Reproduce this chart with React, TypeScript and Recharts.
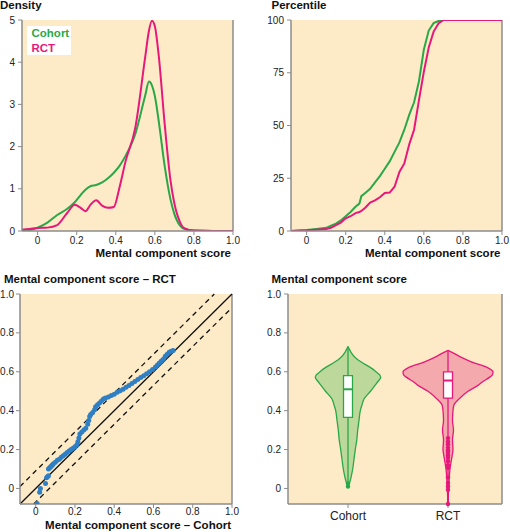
import React from 'react';
import {
  LineChart, Line, XAxis, YAxis, ReferenceLine, CartesianGrid, ScatterChart, Scatter,
  ComposedChart, Area, ReferenceArea, ReferenceDot, Legend,
} from 'recharts';

const FONT = '"Liberation Sans", Arial, Helvetica, sans-serif';
const BG = '#fdebc8';
const AXIS = '#8c8c8c';
const GREEN = '#2aa848';
const MAGENTA = '#e6187a';
const BLUE = '#2f7fc4';
const GREEN_FILL = '#bcd89a';
const MAGENTA_FILL = '#f4a9ac';

// ---------- shared ticks ----------
const scoreTicks = [0, 0.2, 0.4, 0.6, 0.8, 1.0];
const densityTicks = [0, 1, 2, 3, 4, 5];
const percentileTicks = [0, 25, 50, 75, 100];
const groups = ['Cohort', 'RCT'];

// ---------- density panel ----------
const densityX = [-0.08, -0.04, 0, 0.05, 0.1, 0.15, 0.19, 0.22, 0.245, 0.27, 0.3, 0.33, 0.36, 0.39, 0.42, 0.45, 0.5, 0.55, 0.57, 0.585, 0.6, 0.62, 0.65, 0.68, 0.7, 0.73, 0.75, 0.8, 0.9, 1.0];
const densityCohort = [0.0, 0.02, 0.08, 0.2, 0.38, 0.52, 0.68, 0.85, 0.98, 1.06, 1.09, 1.15, 1.25, 1.38, 1.55, 1.78, 2.3, 3.2, 3.54, 3.45, 3.2, 2.6, 1.55, 0.75, 0.4, 0.12, 0.05, 0.01, 0, 0];
const densityRct = [0.03, 0.05, 0.07, 0.08, 0.14, 0.42, 0.62, 0.55, 0.47, 0.62, 0.73, 0.6, 0.55, 0.57, 1.05, 1.65, 2.45, 4.1, 4.75, 4.98, 4.85, 4.15, 2.55, 1.2, 0.65, 0.2, 0.07, 0.01, 0, 0];

// ---------- cumulative panel ----------
const cdfX = [-0.08, 0, 0.05, 0.1, 0.125, 0.15, 0.175, 0.2, 0.225, 0.25, 0.27, 0.28, 0.3, 0.325, 0.35, 0.375, 0.4, 0.425, 0.45, 0.475, 0.5, 0.525, 0.55, 0.575, 0.6, 0.625, 0.65, 0.675, 0.7, 0.8, 1.0];
const cdfCohort = [0, 0.5, 1, 1.5, 2.5, 3.5, 5, 7, 9, 11.5, 13, 16.5, 18, 20, 23, 26, 29.5, 33, 37.5, 42, 48, 55, 61, 71, 86, 95, 98.5, 99.5, 100, 100, 100];
const cdfRct = [0, 0.3, 0.6, 1, 1.5, 2.8, 4, 6, 7, 8.5, 9, 9.5, 11, 13.5, 14.5, 16, 18, 18.2, 21, 28, 32, 41, 48, 62, 75.5, 87, 94.5, 98.4, 100, 100, 100];

// ---------- Q-Q panel ----------
const qqCohort = [0.007, 0.02, 0.024, 0.05, 0.055, 0.06, 0.065, 0.065, 0.07, 0.075, 0.08, 0.085, 0.09, 0.1, 0.11, 0.12, 0.13, 0.14, 0.15, 0.16, 0.17, 0.18, 0.19, 0.2, 0.21, 0.215, 0.22, 0.225, 0.235, 0.245, 0.255, 0.265, 0.27, 0.275, 0.28, 0.29, 0.3, 0.305, 0.315, 0.325, 0.335, 0.345, 0.355, 0.37, 0.385, 0.4, 0.415, 0.43, 0.445, 0.46, 0.475, 0.49, 0.505, 0.52, 0.535, 0.55, 0.565, 0.58, 0.595, 0.61, 0.62, 0.63, 0.64, 0.65, 0.66, 0.67, 0.68, 0.69, 0.7];
const qqRct = [-0.077, -0.02, 0.0, 0.025, 0.055, 0.06, 0.065, 0.1, 0.105, 0.11, 0.115, 0.12, 0.127, 0.135, 0.145, 0.15, 0.16, 0.168, 0.176, 0.185, 0.193, 0.2, 0.207, 0.215, 0.225, 0.24, 0.26, 0.28, 0.29, 0.3, 0.31, 0.33, 0.35, 0.37, 0.38, 0.39, 0.405, 0.42, 0.43, 0.44, 0.45, 0.46, 0.465, 0.47, 0.478, 0.485, 0.495, 0.502, 0.51, 0.52, 0.53, 0.54, 0.55, 0.56, 0.57, 0.58, 0.59, 0.6, 0.612, 0.625, 0.635, 0.645, 0.655, 0.665, 0.68, 0.69, 0.7, 0.706, 0.71];
const qqBandOffsets = [0.09, -0.07];

// ---------- violin panel ----------
const violinY = [-0.08, -0.05, 0, 0.005, 0.02, 0.05, 0.1, 0.15, 0.2, 0.25, 0.3, 0.35, 0.4, 0.43, 0.46, 0.5, 0.53, 0.55, 0.57, 0.585, 0.6, 0.62, 0.65, 0.67, 0.7, 0.71, 0.73];
const violinCohortHalf = [null, null, null, 0, 0.01, 0.027, 0.047, 0.06, 0.073, 0.088, 0.097, 0.11, 0.123, 0.14, 0.16, 0.225, 0.27, 0.3, 0.327, 0.315, 0.28, 0.23, 0.133, 0.08, 0.03, 0.02, 0];
const violinRctHalf = [0, 0.003, 0.007, 0.008, 0.009, 0.012, 0.02, 0.035, 0.05, 0.045, 0.055, 0.045, 0.05, 0.06, 0.11, 0.2, 0.3, 0.35, 0.41, 0.445, 0.45, 0.4, 0.24, 0.15, 0.04, 0, null];
const boxQ1 = [0.365, 0.465];
const boxMedian = [0.51, 0.555];
const boxQ3 = [0.58, 0.6];
const whiskerLow = [0.005, -0.08];
const whiskerHigh = [0.73, 0.71];
const cohortOutliers = [0.01, 0.025];
const rctOutliers = [0.259, 0.241, 0.227, 0.21, 0.196, 0.184, 0.17, 0.158, 0.14, 0.12, 0.106, 0.057, 0.028, 0.01, -0.007, -0.08];

const fmtScore = (v: number) => (v === 0 ? '0' : v.toFixed(1));
const tickStyle = { fontSize: 10, fill: '#222', fontFamily: FONT };
const axisLine = { stroke: AXIS, strokeWidth: 1.5 };
const tickLine = { stroke: AXIS, strokeWidth: 1 };

const densityData = densityX.map((x, i) => ({ x, cohort: densityCohort[i], rct: densityRct[i] }));
const cdfData = cdfX.map((x, i) => ({ x, cohort: cdfCohort[i], rct: cdfRct[i] }));
const qqData = qqCohort.map((x, i) => ({ x, y: qqRct[i] }));
const violinData = violinY.map((y, i) => {
  const c = violinCohortHalf[i];
  const r = violinRctHalf[i];
  return {
    y,
    cohort: c == null ? [null, null] : [1 - c, 1 + c],
    rct: r == null ? [null, null] : [2 - r, 2 + r],
  };
});

const LegendBox = (props: any) => (
  <div style={{ background: '#fff', padding: '0 2px 0 4.5px', fontFamily: FONT, fontWeight: 'bold', fontSize: 11.5, lineHeight: '14.5px' }}>
    {(props.payload || []).map((e: any) => (
      <div key={e.value} style={{ color: e.color }}>{e.value}</div>
    ))}
  </div>
);

const Dot = (p: any) => <circle cx={p.cx} cy={p.cy} r={2.5} fill={BLUE} />;

const titleStyle: React.CSSProperties = { fontFamily: FONT, fontWeight: 'bold', fontSize: 11.5, fill: '#111' };

export default function App() {
  const boxW = 0.045;
  return (
    <div style={{ position: 'absolute', left: 0, top: 0, width: 510, height: 532, background: '#fff', fontFamily: FONT }}>
      <div style={{ position: 'absolute', left: 0, top: 0 }}>
        <LineChart width={255} height={266} data={densityData} margin={{ top: 20, right: 22, bottom: 0, left: 0 }}>
          <CartesianGrid fill={BG} horizontal={false} vertical={false} stroke="none" />
          <XAxis type="number" dataKey="x" domain={[-0.08, 1]} allowDataOverflow ticks={scoreTicks} tickFormatter={fmtScore} height={35} tickSize={4} tickMargin={2} tick={tickStyle} axisLine={axisLine} tickLine={tickLine} />
          <YAxis type="number" domain={[0, 5]} allowDataOverflow ticks={densityTicks} width={22} tickSize={4} tickMargin={3} tick={tickStyle} axisLine={axisLine} tickLine={tickLine} />
          <ReferenceLine x={1} stroke={AXIS} strokeWidth={1.5} />
          <Line name="Cohort" dataKey="cohort" type="monotone" stroke={GREEN} strokeWidth={2} dot={false} isAnimationActive={false} />
          <Line name="RCT" dataKey="rct" type="monotone" stroke={MAGENTA} strokeWidth={2} dot={false} isAnimationActive={false} />
          <Legend content={LegendBox} layout="horizontal" verticalAlign="middle" align="center" wrapperStyle={{ left: 27, top: 26, width: 'auto', height: 'auto' }} />
        </LineChart>
      </div>

      <div style={{ position: 'absolute', left: 255, top: 0 }}>
        <LineChart width={255} height={266} data={cdfData} margin={{ top: 20, right: 8, bottom: 0, left: 0 }}>
          <CartesianGrid fill={BG} horizontal={false} vertical={false} stroke="none" />
          <XAxis type="number" dataKey="x" domain={[-0.08, 1]} allowDataOverflow ticks={scoreTicks} tickFormatter={fmtScore} height={35} tickSize={4} tickMargin={2} tick={tickStyle} axisLine={axisLine} tickLine={tickLine} />
          <YAxis type="number" domain={[0, 100]} allowDataOverflow ticks={percentileTicks} width={36} tickSize={4} tickMargin={3} tick={tickStyle} axisLine={axisLine} tickLine={tickLine} />
          <ReferenceLine x={1} stroke={AXIS} strokeWidth={1.5} />
          <Line name="Cohort" dataKey="cohort" type="linear" stroke={GREEN} strokeWidth={2} dot={false} isAnimationActive={false} />
          <Line name="RCT" dataKey="rct" type="linear" stroke={MAGENTA} strokeWidth={2} dot={false} isAnimationActive={false} />
        </LineChart>
      </div>

      <div style={{ position: 'absolute', left: 0, top: 266 }}>
        <ScatterChart width={255} height={266} margin={{ top: 28, right: 23, bottom: 0, left: 0 }}>
          <CartesianGrid fill={BG} horizontal={false} vertical={false} stroke="none" />
          <XAxis type="number" dataKey="x" domain={[-0.08, 1]} allowDataOverflow ticks={scoreTicks} tickFormatter={fmtScore} height={28} tickSize={4} tickMargin={0} tick={tickStyle} axisLine={axisLine} tickLine={tickLine} />
          <YAxis type="number" dataKey="y" domain={[-0.08, 1]} allowDataOverflow ticks={scoreTicks} tickFormatter={fmtScore} width={20} tickSize={4} tickMargin={2} tick={tickStyle} axisLine={axisLine} tickLine={tickLine} />
          <ReferenceLine x={1} stroke={AXIS} strokeWidth={1.5} />
          <ReferenceLine segment={[{ x: -0.08, y: -0.08 }, { x: 1, y: 1 }]} stroke="#111" strokeWidth={1.3} />
          <ReferenceLine segment={[{ x: -0.08, y: -0.08 + qqBandOffsets[0] }, { x: 1 - qqBandOffsets[0], y: 1 }]} stroke="#111" strokeWidth={1.3} strokeDasharray="5 4" />
          <ReferenceLine segment={[{ x: -0.08 - qqBandOffsets[1], y: -0.08 }, { x: 1, y: 1 + qqBandOffsets[1] }]} stroke="#111" strokeWidth={1.3} strokeDasharray="5 4" />
          <Scatter data={qqData} fill={BLUE} shape={Dot} isAnimationActive={false} />
        </ScatterChart>
      </div>

      <div style={{ position: 'absolute', left: 255, top: 266 }}>
        <ComposedChart layout="vertical" width={255} height={266} data={violinData} margin={{ top: 28, right: 8, bottom: 0, left: 0 }}>
          <CartesianGrid fill={BG} horizontal={false} vertical={false} stroke="none" />
          <XAxis type="number" domain={[0.4, 2.54]} allowDataOverflow ticks={[1, 2]} tickFormatter={(v: number) => groups[v - 1]} height={28} tickSize={4} tickMargin={3} tick={{ fontSize: 12, fill: '#222', fontFamily: FONT }} axisLine={axisLine} tickLine={tickLine} />
          <YAxis type="number" dataKey="y" reversed domain={[-0.08, 1]} allowDataOverflow ticks={scoreTicks} tickFormatter={fmtScore} width={33} tickSize={4} tickMargin={3} tick={tickStyle} axisLine={axisLine} tickLine={tickLine} />
          <ReferenceLine x={2.54} stroke={AXIS} strokeWidth={1.5} />
          <Area dataKey="cohort" type="monotone" fill={GREEN_FILL} fillOpacity={1} stroke={GREEN} strokeWidth={1.3} isAnimationActive={false} />
          <Area dataKey="rct" type="monotone" fill={MAGENTA_FILL} fillOpacity={1} stroke={MAGENTA} strokeWidth={1.3} isAnimationActive={false} />
          {[0, 1].map((i) => (
            <ReferenceLine key={'wl' + i} segment={[{ x: i + 1, y: whiskerLow[i] }, { x: i + 1, y: boxQ1[i] }]} stroke={i === 0 ? GREEN : MAGENTA} strokeWidth={1.3} />
          ))}
          {[0, 1].map((i) => (
            <ReferenceLine key={'wh' + i} segment={[{ x: i + 1, y: boxQ3[i] }, { x: i + 1, y: whiskerHigh[i] }]} stroke={i === 0 ? GREEN : MAGENTA} strokeWidth={1.3} />
          ))}
          {[0, 1].map((i) => (
            <ReferenceArea key={'box' + i} x1={i + 1 - boxW} x2={i + 1 + boxW} y1={boxQ1[i]} y2={boxQ3[i]} fill="#fff" fillOpacity={1} stroke={i === 0 ? GREEN : MAGENTA} strokeWidth={1.3} />
          ))}
          {[0, 1].map((i) => (
            <ReferenceLine key={'med' + i} segment={[{ x: i + 1 - boxW, y: boxMedian[i] }, { x: i + 1 + boxW, y: boxMedian[i] }]} stroke={i === 0 ? GREEN : MAGENTA} strokeWidth={2} />
          ))}
          {cohortOutliers.map((v, i) => (
            <ReferenceDot key={'co' + i} x={1} y={v} r={2.2} fill={GREEN} stroke="none" />
          ))}
          {rctOutliers.map((v, i) => (
            <ReferenceDot key={'ro' + i} x={2} y={v} r={2.2} fill={MAGENTA} stroke="none" />
          ))}
        </ComposedChart>
      </div>

      <svg width={510} height={532} style={{ position: 'absolute', left: 0, top: 0, pointerEvents: 'none' }}>
        <text x={0} y={9} style={titleStyle}>Density</text>
        <text x={271.5} y={9} style={titleStyle}>Percentile</text>
        <text x={231} y={257} textAnchor="end" style={titleStyle}>Mental component score</text>
        <text x={500.5} y={257} textAnchor="end" style={titleStyle}>Mental component score</text>
        <text x={4} y={282.5} style={titleStyle}>Mental component score – RCT</text>
        <text x={231} y={528.5} textAnchor="end" style={titleStyle}>Mental component score – Cohort</text>
        <text x={271.5} y={282.5} style={titleStyle}>Mental component score</text>
      </svg>
    </div>
  );
}
